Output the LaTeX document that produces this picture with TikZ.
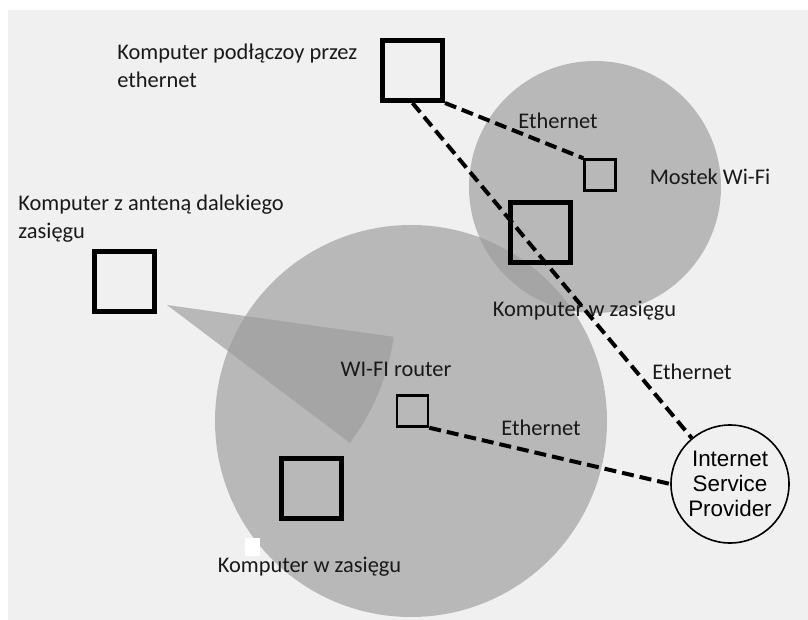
\documentclass[tikz,border=0pt]{standalone}
\usepackage{fontspec}
\setmainfont{Carlito}
\newfontfamily\ispfont{Liberation Sans}
\begin{document}
\begin{tikzpicture}[x=0.5pt,y=-0.5pt,
  zone/.style={fill=black!39,fill opacity=0.66},
  pc/.style={draw,line width=2.5pt,minimum size=30pt,inner sep=0pt},
  dev/.style={draw,line width=1.25pt,minimum size=15.5pt,inner sep=0pt},
  link/.style={line width=2pt,dash pattern=on 6pt off 3pt},
  lbl/.style={font=\fontsize{11.2}{14}\selectfont,inner sep=0pt,text=black!90}]
\useasboundingbox (0,0) rectangle (808,620);
\fill[white] (0,0) rectangle (808,620);
\fill[black!6] (8,10) rectangle (808,620);

% zasiegi
\fill[zone] (411,421) circle[radius=196];
\fill[zone] (595,187) circle[radius=126];
\fill[zone] (167,305) -- ++(8:229) arc[start angle=8,end angle=37,radius=229] -- cycle;
\fill[white] (245,538) rectangle (260,556);

\node[pc] (1) at (412.5,70.5) {};
\node[pc] (2) at (124.5,281.5) {};
\node[pc] (3) at (540,232.5) {};
\node[pc] (4) at (311,488.5) {};
\node[dev] (5) at (600,175) {};
\node[dev] (6) at (412.5,411) {};
\node[draw,circle,line width=0.8pt,minimum size=59pt,inner sep=0pt,align=center,
  font=\ispfont\fontsize{11.2}{12.5}\selectfont] (7) at (730,484) {Internet\\Service\\Provider};

\node[lbl,align=left,anchor=west] (l1) at (117,66) {Komputer podłączoy przez\\ethernet};
\node[lbl] (l2) at (558,121) {Ethernet};
\node[lbl] (l3) at (710,177) {Mostek Wi-Fi};
\node[lbl,align=left,anchor=west] (l4) at (18,218.5) {Komputer z anteną dalekiego\\zasięgu};
\node[lbl] (l5) at (584.5,311) {Komputer w zasięgu};
\node[lbl] (l6) at (396,369) {WI-FI router};
\node[lbl] (l7) at (692,372) {Ethernet};
\node[lbl] (l8) at (541,428) {Ethernet};
\node[lbl] (l9) at (309.5,567) {Komputer w zasięgu};

\draw[link] (1.south east) -- (5.north west);
\draw[link] (1.south) -- (7);
\draw[link] (6.south east) -- (7.west);
\end{tikzpicture}
\end{document}
